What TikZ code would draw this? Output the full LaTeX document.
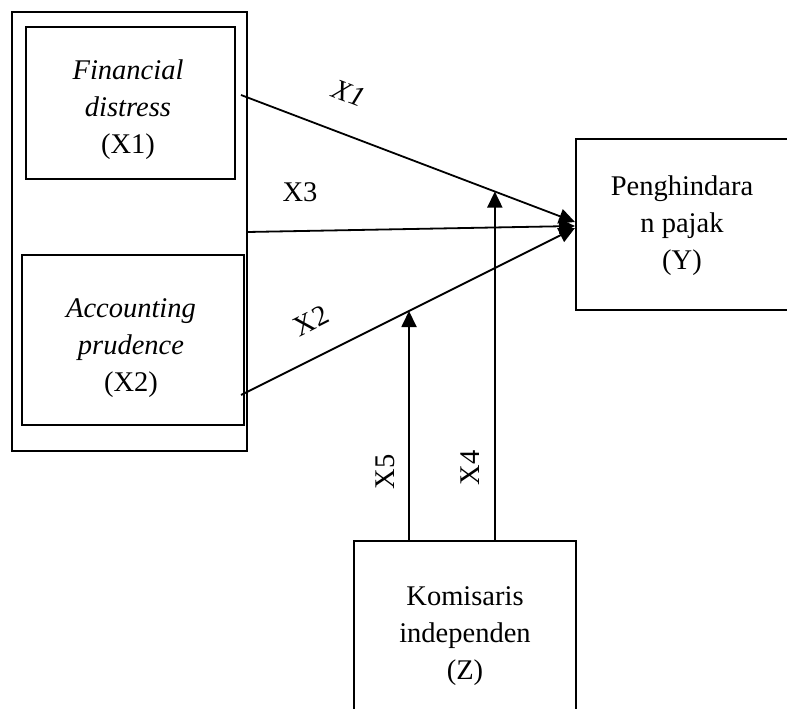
\documentclass[tikz,border=0pt]{standalone}
\usepackage{fontspec}
\setmainfont{Liberation Serif}
\usepackage{tikz}
\usetikzlibrary{arrows.meta}
\tikzstyle{Box}=[rectangle,draw=black,line width=1.8pt,inner sep=0pt]
\tikzstyle{Txt}=[align=center,inner sep=0pt,
font=\fontsize{28.5}{37}\selectfont]
\tikzstyle{Edge}=[draw=black,line width=1.8pt,
-{Triangle[length=16pt,width=15pt]}]
\tikzstyle{Lab}=[inner sep=0pt,font=\fontsize{28.5}{34}\selectfont]

\begin{document}
\begin{tikzpicture}[x=1pt,y=-1pt]
            \useasboundingbox(0,0)rectangle(787,709);
            % boxes
            \node[Box,minimum width=235pt,minimum height=439pt](out)
                at(129.5,231.5){};
            \node[Box,minimum width=209pt,minimum height=152pt](fd)
                at(130.5,103){};
            \node[Box,minimum width=222pt,minimum height=170pt](ap)
                at(133,340){};
            \node[Box,minimum width=216pt,minimum height=171pt](y)
                at(684,224.5){};
            \node[Box,minimum width=222pt,minimum height=174pt](z)
                at(465,628){};
            % texts
            \node[Txt](fdt)at(128,110)
                {\textit{Financial}\\\textit{distress}\\(X1)};
            \node[Txt](apt)at(131,348)
                {\textit{Accounting}\\\textit{prudence}\\(X2)};
            \node[Txt](yt)at(682,226)
                {Penghindara\\n pajak\\(Y)};
            \node[Txt](zt)at(465,636)
                {Komisaris\\independen\\(Z)};
            % ends
            \coordinate(s1)at(241,95);
            \coordinate(s3)at(247,232);
            \coordinate(s2)at(241,395);
            \coordinate(t1)at(575,222);
            \coordinate(t3)at(575,226);
            \coordinate(t2)at(575,228);
            % arrows
            \draw[Edge](s1)--coordinate[pos=.76](m4)(t1);
            \draw[Edge](s3)--(t3);
            \draw[Edge](s2)--coordinate[pos=.503](m5)(t2);
            \draw[Edge](m4|-z.north)--(m4);
            \draw[Edge](m5|-z.north)--(m5);
            % labels
            \node[Lab,rotate=-21](l1)at(349,93){\textit{X1}};
            \node[Lab](l3)at(300,192){X3};
            \node[Lab,rotate=27](l2)at(311,321){X2};
            \node[Lab,rotate=90](l5)at(385,472){X5};
            \node[Lab,rotate=90](l4)at(470,468){X4};
        \end{tikzpicture}
\end{document}
